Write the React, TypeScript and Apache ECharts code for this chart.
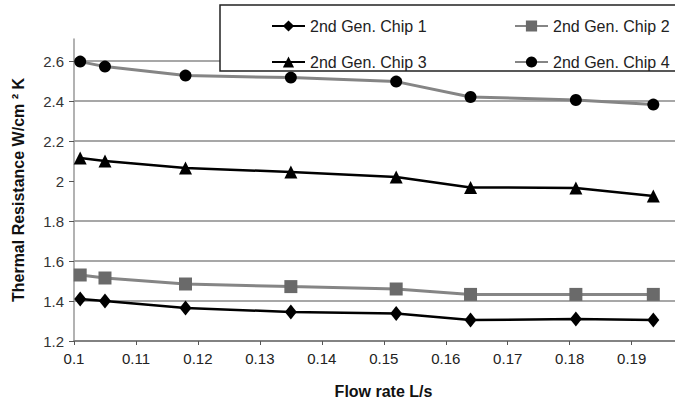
import React, { useEffect, useRef } from "react";
import * as echarts from "echarts";

const flowRate = [0.101, 0.105, 0.118, 0.135, 0.152, 0.164, 0.181, 0.1935];
const chip1 = [1.41, 1.4, 1.365, 1.345, 1.338, 1.305, 1.31, 1.305];
const chip2 = [1.53, 1.515, 1.485, 1.472, 1.46, 1.433, 1.433, 1.433];
const chip3 = [2.115, 2.1, 2.065, 2.045, 2.02, 1.968, 1.965, 1.925];
const chip4 = [2.597, 2.572, 2.527, 2.517, 2.497, 2.42, 2.405, 2.382];
const seriesNames = ["2nd Gen. Chip 1", "2nd Gen. Chip 2", "2nd Gen. Chip 3", "2nd Gen. Chip 4"];

const pairs = (ys: number[]) => flowRate.map((x, i) => [x, ys[i]]);

export default function App() {
  const ref = useRef<HTMLDivElement>(null);
  useEffect(() => {
    if (!ref.current) return;
    const chart = echarts.init(ref.current, null, { renderer: "svg" });
    const font = "Liberation Sans, Arial, sans-serif";
    const legendCommon = {
      orient: "vertical",
      top: 17,
      padding: 0,
      itemWidth: 33,
      itemHeight: 14,
      itemGap: 18,
      z: 10,
      textStyle: { fontFamily: font, fontSize: 16, lineHeight: 18, color: "#222" },
    };
    chart.setOption({
      animation: false,
      backgroundColor: "#ffffff",
      grid: { left: 74, right: 0, top: 39, bottom: 65, containLabel: false },
      xAxis: {
        type: "value",
        min: 0.1,
        max: 0.197,
        interval: 0.01,
        name: "Flow rate L/s",
        nameLocation: "middle",
        nameGap: 42,
        nameTextStyle: { fontFamily: font, fontWeight: "bold", fontSize: 16, color: "#111", padding: [0, 0, 0, 18] },
        axisLine: { show: true, lineStyle: { color: "#777", width: 1.5 } },
        axisTick: { show: true, inside: false, length: 4, lineStyle: { color: "#555" } },
        axisLabel: {
          showMaxLabel: false,
          margin: 10,
          fontFamily: font,
          fontSize: 15,
          color: "#222",
          formatter: (v: number) => (v > 0.1955 ? "" : String(Math.round(v * 100) / 100)),
        },
        splitLine: { show: false },
      },
      yAxis: {
        type: "value",
        min: 1.2,
        max: 2.71,
        interval: 0.2,
        name: "Thermal Resistance W/cm ² K",
        nameLocation: "middle",
        nameGap: 48,
        nameTextStyle: { fontFamily: font, fontWeight: "bold", fontSize: 16, color: "#111" },
        axisLine: { show: true, lineStyle: { color: "#999", width: 1.5 } },
        axisTick: { show: true, inside: false, length: 5, lineStyle: { color: "#555" } },
        axisLabel: {
          showMaxLabel: false,
          margin: 10,
          fontFamily: font,
          fontSize: 15,
          color: "#333",
          formatter: (v: number) => (v > 2.65 ? "" : String(Math.round(v * 10) / 10)),
        },
        splitLine: {
          show: true,
          showMaxLine: false,
          lineStyle: {
            width: 1.5,
            color: ["#8a8a8a", "#8a8a8a", "#8a8a8a", "#8a8a8a", "rgba(0,0,0,0)", "#8a8a8a", "#8a8a8a", "#8a8a8a", "rgba(0,0,0,0)"],
          },
        },
      },
      graphic: [
        {
          type: "rect",
          z: 5,
          shape: { x: 220, y: 5, width: 470, height: 66 },
          style: { fill: "#ffffff", stroke: "#222", lineWidth: 1.5 },
        },
      ],
      legend: [
        { ...legendCommon, data: [seriesNames[0], seriesNames[2]], left: 271 },
        { ...legendCommon, data: [seriesNames[1], seriesNames[3]], left: 514 },
      ],
      series: [
        {
          name: seriesNames[0],
          type: "line",
          data: pairs(chip1),
          symbol: "diamond",
          symbolSize: [12, 15],
          lineStyle: { color: "#000", width: 2.5 },
          itemStyle: { color: "#000" },
          z: 4,
        },
        {
          name: seriesNames[1],
          type: "line",
          data: pairs(chip2),
          symbol: "rect",
          symbolSize: 13,
          lineStyle: { color: "#858585", width: 3 },
          itemStyle: { color: "#6a6a6a" },
          z: 3,
        },
        {
          name: seriesNames[2],
          type: "line",
          data: pairs(chip3),
          symbol: "triangle",
          symbolSize: 13,
          lineStyle: { color: "#000", width: 2.5 },
          itemStyle: { color: "#000" },
          z: 3,
        },
        {
          name: seriesNames[3],
          type: "line",
          data: pairs(chip4),
          symbol: "circle",
          symbolSize: 12,
          lineStyle: { color: "#858585", width: 3 },
          itemStyle: { color: "#000" },
          z: 3,
        },
      ],
    });
    return () => chart.dispose();
  }, []);
  return <div ref={ref} style={{ width: 675, height: 406, position: "absolute", left: 0, top: 0 }} />;
}
